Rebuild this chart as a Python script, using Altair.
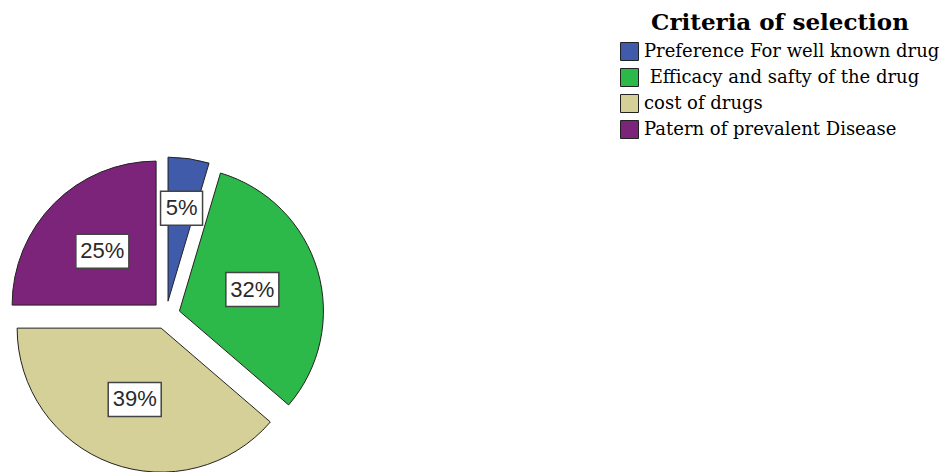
import altair as alt
import pandas as pd

categories = [
    "Preference For well known drug",
    "\u200b Efficacy and safty of the drug",
    "cost of drugs",
    "Patern of prevalent Disease",
]
values = [4.6, 31.7, 38.7, 25.0]
colors = ["#3F5BAA", "#2DB84A", "#D5CF98", "#7B2479"]

CX, CY, R, EXPLODE = 166, 315, 144, 14

df = pd.DataFrame({"category": categories, "value": values,
                   "order": list(range(len(categories)))})

base = (
    alt.Chart(df)
    .transform_joinaggregate(total="sum(value)")
    .transform_window(cum="sum(value)", sort=[alt.SortField("order")], frame=[None, 0])
    .transform_calculate(t1="datum.cum / datum.total * 2 * PI")
    .transform_calculate(t0="(datum.cum - datum.value) / datum.total * 2 * PI")
    .transform_calculate(mid="(datum.t0 + datum.t1) / 2")
    .transform_calculate(cx=f"{CX} + {EXPLODE} * sin(datum.mid)")
    .transform_calculate(cy=f"{CY} - {EXPLODE} * cos(datum.mid)")
    .transform_calculate(label="round(datum.value / datum.total * 100) + '%'")
    .transform_calculate(lr="datum.value / datum.total < 0.1 ? 94 : 76")
    .transform_calculate(lx="datum.cx + datum.lr * sin(datum.mid)")
    .transform_calculate(ly="datum.cy - datum.lr * cos(datum.mid)")
    .transform_calculate(bw="11 * (length(datum.label) - 1) + 31")
    .transform_calculate(bx0="datum.lx - datum.bw / 2", bx1="datum.lx + datum.bw / 2",
                         by0="datum.ly - 17", by1="datum.ly + 17")
)

legend = alt.Legend(
    title="Criteria of selection",
    orient="none", legendX=620, legendY=12,
    titleFont="DejaVu Serif", titleFontSize=23, titleFontWeight="bold",
    titleColor="black", titleAnchor="middle", titlePadding=7, titleLimit=500,
    labelFont="DejaVu Serif", labelFontSize=18, labelColor="black",
    labelLimit=500, labelOffset=5,
    symbolType="square", symbolSize=324, symbolStrokeColor="#222",
    symbolStrokeWidth=1, symbolOpacity=1, rowPadding=3,
)

arcs = base.mark_arc(radius=R, stroke="#222", strokeWidth=1).encode(
    x=alt.X("cx:Q", scale=None, axis=None),
    y=alt.Y("cy:Q", scale=None, axis=None),
    theta=alt.Theta("t0:Q", scale=None),
    theta2=alt.Theta2("t1:Q"),
    color=alt.Color("category:N", scale=alt.Scale(domain=categories, range=colors),
                    sort=categories, legend=legend),
)

boxes = base.mark_rect(fill="white", stroke="#444", strokeWidth=1.5).encode(
    x=alt.X("bx0:Q", scale=None, axis=None),
    x2="bx1:Q",
    y=alt.Y("by0:Q", scale=None, axis=None),
    y2="by1:Q",
)

texts = base.mark_text(font="Liberation Sans", fontSize=22, color="#2a2a2a",
                       baseline="middle", align="center").encode(
    x=alt.X("lx:Q", scale=None, axis=None),
    y=alt.Y("ly:Q", scale=None, axis=None),
    text="label:N",
)

chart = (
    alt.layer(arcs, boxes, texts)
    .properties(width=943, height=472, padding=0, autosize=alt.AutoSizeParams(type="none"))
    .configure_view(stroke=None)
)

chart.save("out.html", embed_options={"renderer": "svg", "actions": False})
